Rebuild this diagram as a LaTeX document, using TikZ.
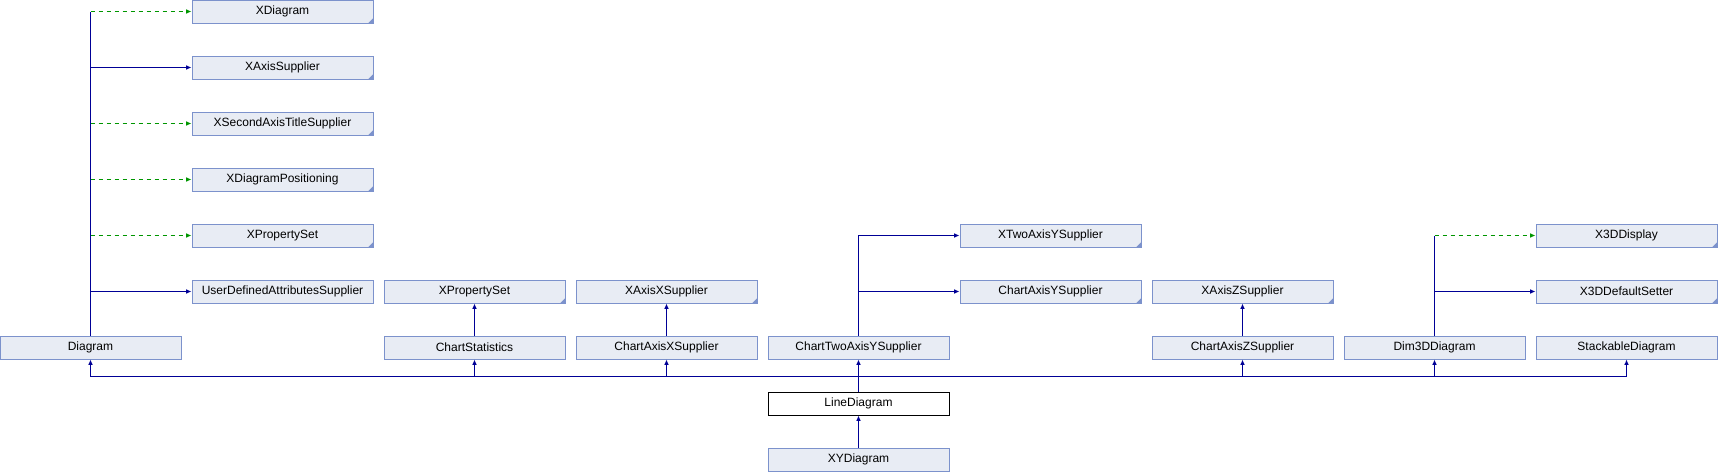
\documentclass[tikz,border=0pt]{standalone}
\usepackage{fontspec}
\setmainfont{Liberation Sans}
\usetikzlibrary{arrows.meta}

\definecolor{boxfill}{RGB}{232,236,244}
\definecolor{boxline}{RGB}{124,146,204}
\definecolor{inhblue}{RGB}{0,0,150}
\definecolor{implgreen}{RGB}{0,150,0}

\begin{document}
\begin{tikzpicture}[
            x=0.75pt, y=-0.75pt,
            every node/.style={draw=boxline, fill=boxfill, line width=0.75pt,
                minimum width=135.75pt, minimum height=17.25pt, inner sep=0pt,
                font=\fontsize{9}{10}\selectfont},
            ext/.style={path picture={\fill[boxline] (path picture bounding box.south east)
                -- ++(-3.5pt,0) -- ++(3.5pt,3.5pt) -- cycle;}},
            this/.style={draw=black, fill=white},
            inh/.style={draw=inhblue, line width=0.75pt, -{Latex[length=4pt,width=3.5pt]}},
            impl/.style={inh, draw=implgreen, dash pattern=on 3pt off 3pt},
            ]
            \useasboundingbox (0,0) rectangle (1718,472);

            % interfaces of Diagram
            \node[ext] (xdiag) at (282.5, 11.5) {XDiagram};
            \node[ext] (xaxis) at (282.5, 67.5) {XAxisSupplier};
            \node[ext] (xsec) at (282.5, 123.5) {XSecondAxisTitleSupplier};
            \node[ext] (xpos) at (282.5, 179.5) {XDiagramPositioning};
            \node[ext] (xprop) at (282.5, 235.5) {XPropertySet};
            \node (udas) at (282.5, 291.5) {UserDefinedAttributesSupplier};

            % other bases
            \node[ext] (xprop2) at (474.5, 291.5) {XPropertySet};
            \node[ext] (xaxisx) at (666.5, 291.5) {XAxisXSupplier};
            \node[ext] (xtwoy) at (1050.5, 235.5) {XTwoAxisYSupplier};
            \node[ext] (caxisy) at (1050.5, 291.5) {ChartAxisYSupplier};
            \node[ext] (xaxisz) at (1242.5, 291.5) {XAxisZSupplier};
            \node[ext] (x3dd) at (1626.5, 235.5) {X3DDisplay};
            \node[ext] (x3dset) at (1626.5, 291.5) {X3DDefaultSetter};

            % direct bases
            \node (diag) at (90.5, 347.5) {Diagram};
            \node (cstat) at (474.5, 347.5) {ChartStatistics};
            \node (caxisx) at (666.5, 347.5) {ChartAxisXSupplier};
            \node (ctwoy) at (858.5, 347.5) {ChartTwoAxisYSupplier};
            \node (caxisz) at (1242.5, 347.5) {ChartAxisZSupplier};
            \node (dim3d) at (1434.5, 347.5) {Dim3DDiagram};
            \node (stack) at (1626.5, 347.5) {StackableDiagram};

            \node[this] (line) at (858.5, 403.5) {LineDiagram};
            \node (xy) at (858.5, 459.5) {XYDiagram};

            \coordinate (bus) at (0, 376);

            \draw[inh] (xy) -- (line);
            \draw[inh] (line) -- (ctwoy);
            \foreach \base in {diag, cstat, caxisx, caxisz, dim3d, stack}
                \draw[inh] (line.north) -- (line.north |- bus) -| (\base.south);

            \draw[inh, -] (diag.north) -- (diag.north |- xdiag.west);
            \draw[impl] (diag.north |- xdiag.west) -- (xdiag.west);
            \draw[inh] (diag.north |- xaxis.west) -- (xaxis.west);
            \draw[impl] (diag.north |- xsec.west) -- (xsec.west);
            \draw[impl] (diag.north |- xpos.west) -- (xpos.west);
            \draw[impl] (diag.north |- xprop.west) -- (xprop.west);
            \draw[inh] (diag.north |- udas.west) -- (udas.west);

            \draw[inh] (cstat) -- (xprop2);
            \draw[inh] (caxisx) -- (xaxisx);
            \draw[inh] (ctwoy.north) |- (xtwoy.west);
            \draw[inh] (ctwoy.north) |- (caxisy.west);
            \draw[inh] (caxisz) -- (xaxisz);

            \draw[inh, -] (dim3d.north) -- (dim3d.north |- x3dd.west);
            \draw[impl] (dim3d.north |- x3dd.west) -- (x3dd.west);
            \draw[inh] (dim3d.north) |- (x3dset.west);
        \end{tikzpicture}
\end{document}
